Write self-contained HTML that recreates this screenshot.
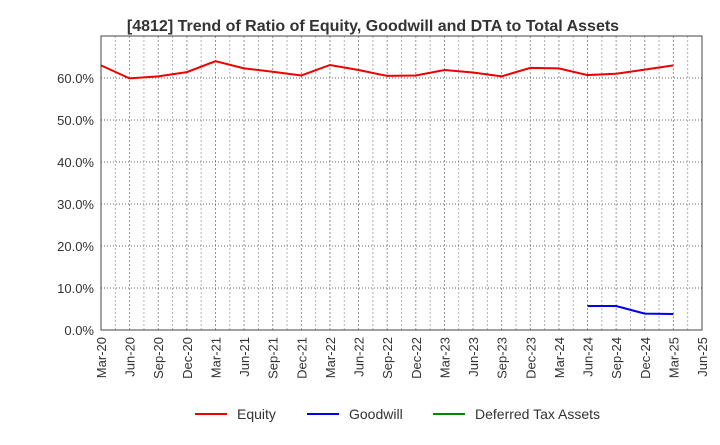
<!DOCTYPE html>
<html><head><meta charset="utf-8"><style>
body{margin:0;background:#fff;font-family:"Liberation Sans",sans-serif}
</style></head><body>
<svg width="720" height="440" xmlns="http://www.w3.org/2000/svg">
<text x="373" y="31" text-anchor="middle" font-size="16" font-weight="bold" fill="#333">[4812]  Trend of Ratio of Equity, Goodwill and DTA to Total Assets</text>
<g id="grid"></g>
<g id="axes"></g>
<g id="series"></g>
<g font-size="14" fill="#333">
<g><line x1="195" y1="414" x2="227" y2="414" stroke="#e00" stroke-width="2"/><text x="237" y="419">Equity</text></g>
<g><line x1="307" y1="414" x2="339" y2="414" stroke="#00e" stroke-width="2"/><text x="349" y="419">Goodwill</text></g>
<g><line x1="433" y1="414" x2="465" y2="414" stroke="#080" stroke-width="2"/><text x="475" y="419">Deferred Tax Assets</text></g>
</g>
</svg>
<script>
const categories=["Mar-20","Jun-20","Sep-20","Dec-20","Mar-21","Jun-21","Sep-21","Dec-21","Mar-22","Jun-22","Sep-22","Dec-22","Mar-23","Jun-23","Sep-23","Dec-23","Mar-24","Jun-24","Sep-24","Dec-24","Mar-25","Jun-25"];
const equity=[63.0,59.9,60.4,61.4,64.0,62.3,61.5,60.6,63.1,61.9,60.5,60.6,61.9,61.3,60.4,62.4,62.3,60.7,61.0,62.0,63.0,null];
const goodwill=[null,null,null,null,null,null,null,null,null,null,null,null,null,null,null,null,null,5.7,5.7,3.9,3.8,null];
const dta=[];
const yTicks=[0,10,20,30,40,50,60];
const ns="http://www.w3.org/2000/svg";
const X0=101,X1=702,Y0=330,YT=36;
const x=i=>X0+(X1-X0)*i/(categories.length-1);
const y=v=>Y0-(Y0-YT)*v/70;
function mk(t,a,p){const e=document.createElementNS(ns,t);for(const k in a)e.setAttribute(k,a[k]);p.appendChild(e);return e;}
const grid=document.getElementById('grid'),axes=document.getElementById('axes'),series=document.getElementById('series');
categories.forEach((c,i)=>{
 const l=mk('line',{x1:x(i),x2:x(i),y1:YT,y2:Y0,stroke:'#888','stroke-dasharray':'2,2','stroke-width':0.9},grid);
 
 
 if(i<categories.length-1){const m=mk('line',{x1:(x(i)+x(i+1))/2,x2:(x(i)+x(i+1))/2,y1:YT,y2:Y0,stroke:'#aaa','stroke-dasharray':'2,2','stroke-width':0.9},grid);
 
 }
 const t=mk('text',{x:0,y:0,'font-size':13,fill:'#333','text-anchor':'end',transform:`translate(${x(i)+5},${Y0+7}) rotate(-90)`},axes);
 t.textContent=c;
 
 
});
yTicks.forEach(v=>{
 const l=mk('line',{x1:X0,x2:X1,y1:y(v),y2:y(v),stroke:'#666','stroke-dasharray':'1,2','stroke-width':1},grid);
 
 
 const t=mk('text',{x:X0-7,y:y(v)+5,'font-size':13,fill:'#333','text-anchor':'end'},axes);
 t.textContent=v.toFixed(1)+'%';
 
 
});
const r=mk('rect',{x:X0,y:YT,width:X1-X0,height:Y0-YT,fill:'none',stroke:'#444','stroke-width':1},axes);


function line(arr,color,name){
 const pts=[];arr.forEach((v,i)=>{if(v!=null)pts.push(x(i)+','+y(v));});
 if(!pts.length)return;
 const p=mk('polyline',{points:pts.join(' '),fill:'none',stroke:color,'stroke-width':2},series);
 
 
}
line(equity,'#e00','equity-line');
line(goodwill,'#00e','goodwill-line');
line(dta,'#080','dta-line');
</script>
</body></html>
